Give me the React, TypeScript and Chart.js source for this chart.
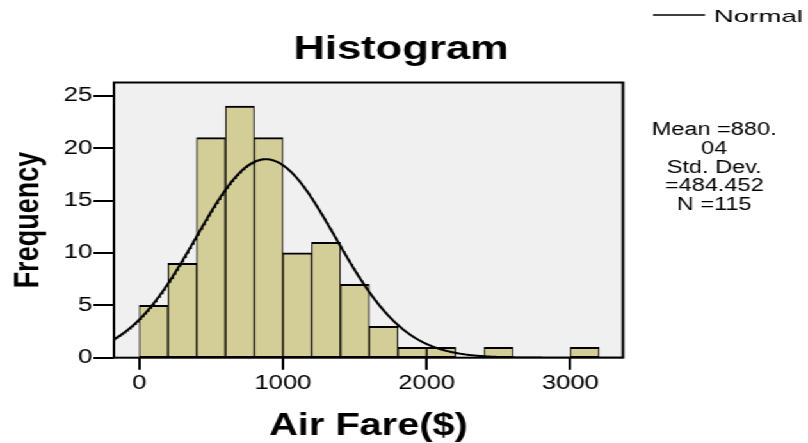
import React, { useEffect, useRef } from "react";
import { Chart, registerables } from "chart.js";

Chart.register(...registerables);

// ---- data ----
const binCenters = [100, 300, 500, 700, 900, 1100, 1300, 1500, 1700, 1900, 2100, 2300, 2500, 2700, 2900, 3100];
const frequencies = [5, 9, 21, 24, 21, 10, 11, 7, 3, 1, 1, 0, 1, 0, 0, 1];
const xTickValues = [0, 1000, 2000, 3000];
const yTickValues = [0, 5, 10, 15, 20, 25];
const MEAN = 880.04;
const STD_DEV = 484.452;
const N = 115;
const BIN_WIDTH = 200;
const statsLines = ["Mean =880.", "04", "Std. Dev.", "=484.452", "N =115"];
const TITLE = "Histogram";
const X_TITLE = "Air Fare($)";
const Y_TITLE = "Frequency";
const LEGEND_LABEL = "Normal";

// axis ranges
const X_MIN = -176;
const X_MAX = 3366;
const Y_MIN = 0;
const Y_MAX = 26.26;

// ---- layout (unstretched canvas coordinates) ----
const CANVAS_W = 631;
const CANVAS_H = 443;
const STRETCH = 808 / CANVAS_W;
const FONT = '"Liberation Sans", Arial, sans-serif';

function normalCurve() {
  const pts: { x: number; y: number }[] = [];
  const peak = (N * BIN_WIDTH) / (STD_DEV * Math.sqrt(2 * Math.PI));
  for (let x = X_MIN; x <= X_MAX; x += 6) {
    const z = (x - MEAN) / STD_DEV;
    pts.push({ x, y: peak * Math.exp(-0.5 * z * z) });
  }
  return pts;
}

function drawText(ctx: CanvasRenderingContext2D, text: string, x: number, y: number, font: string, align: CanvasTextAlign, sx: number) {
  ctx.save();
  ctx.font = font;
  ctx.fillStyle = "#000";
  ctx.textAlign = align;
  ctx.textBaseline = "alphabetic";
  ctx.translate(x, y);
  ctx.scale(sx, 1);
  ctx.fillText(text, 0, 0);
  ctx.restore();
}

const framePlugin = {
  id: "spssFrame",
  beforeDatasetsDraw(chart: any) {
    const { ctx, chartArea: a } = chart;
    ctx.save();
    ctx.fillStyle = "#f0f0f0";
    ctx.fillRect(a.left, a.top, a.right - a.left, a.bottom - a.top);
    ctx.restore();
  },
  afterDatasetsDraw(chart: any) {
    const { ctx, chartArea: a } = chart;
    ctx.save();
    ctx.strokeStyle = "#000";
    ctx.lineWidth = 2;
    ctx.strokeRect(a.left, a.top, a.right - a.left, a.bottom - a.top);
    ctx.restore();
  },
  afterDraw(chart: any) {
    const ctx: CanvasRenderingContext2D = chart.ctx;
    // title
    drawText(ctx, TITLE, 313.2, 59, `bold 34px ${FONT}`, "center", 1);
    // legend
    ctx.save();
    ctx.strokeStyle = "#000";
    ctx.lineWidth = 1.5;
    ctx.beginPath();
    ctx.moveTo(510, 15);
    ctx.lineTo(550.6, 15);
    ctx.stroke();
    ctx.restore();
    drawText(ctx, LEGEND_LABEL, 557.5, 22, `17px ${FONT}`, "left", 1.27);
    // stats
    const baselines = [135, 153.75, 172.5, 191.25, 210];
    statsLines.forEach((t, i) => {
      drawText(ctx, t, 557.8, baselines[i], `18px ${FONT}`, "center", 1.02);
    });
  },
};

export default function App() {
  const canvasRef = useRef<HTMLCanvasElement | null>(null);

  useEffect(() => {
    if (!canvasRef.current) return;
    const chart = new Chart(canvasRef.current, {
      type: "bar",
      data: {
        datasets: [
          {
            type: "line",
            label: LEGEND_LABEL,
            data: normalCurve(),
            borderColor: "#000",
            borderWidth: 2,
            pointRadius: 0,
            tension: 0,
            fill: false,
          } as any,
          {
            type: "bar",
            label: "Frequency",
            data: binCenters.map((x, i) => ({ x, y: frequencies[i] })),
            backgroundColor: "#d3ce97",
            borderColor: "#000",
            borderWidth: { top: 2, left: 1, right: 1, bottom: 1 },
            borderSkipped: false,
            barPercentage: 1,
            categoryPercentage: 1,
          } as any,
        ],
      },
      options: {
        animation: false,
        responsive: true,
        maintainAspectRatio: false,
        layout: { padding: { top: 82.5, right: 144.5, bottom: 0, left: 0 } },
        plugins: {
          legend: { display: false },
          tooltip: { enabled: false },
          title: { display: false },
        },
        scales: {
          x: {
            type: "linear",
            min: X_MIN,
            max: X_MAX,
            offset: false,
            afterFit: (s: any) => {
              s.height = 85.3;
            },
            afterBuildTicks: (s: any) => {
              s.ticks = xTickValues.map((v) => ({ value: v }));
            },
            grid: {
              offset: false,
              drawOnChartArea: false,
              drawTicks: true,
              tickLength: 12,
              color: "#000",
              lineWidth: 2,
            },
            border: { display: false },
            ticks: {
              color: "#000",
              font: { family: FONT, size: 20, lineHeight: 1.2 },
              padding: 2,
              maxRotation: 0,
              autoSkip: false,
              callback: (v: any) => String(v),
            },
            title: {
              display: true,
              text: X_TITLE,
              color: "#000",
              font: { family: FONT, size: 31, weight: "bold", lineHeight: 1 },
              padding: { top: 0, bottom: 1 },
            },
          },
          y: {
            type: "linear",
            min: Y_MIN,
            max: Y_MAX,
            afterFit: (s: any) => {
              s.width = 89;
            },
            afterBuildTicks: (s: any) => {
              s.ticks = yTickValues.map((v) => ({ value: v }));
            },
            grid: {
              drawOnChartArea: false,
              drawTicks: true,
              tickLength: 16,
              color: "#000",
              lineWidth: 2,
            },
            border: { display: false },
            ticks: {
              color: "#000",
              font: { family: FONT, size: 20 },
              padding: 1,
              callback: (v: any) => String(v),
            },
            title: {
              display: true,
              text: Y_TITLE,
              color: "#000",
              font: { family: FONT, size: 27, weight: "bold", lineHeight: 1 },
              padding: { top: 9, bottom: 0 },
            },
          },
        },
      } as any,
      plugins: [framePlugin],
    });
    return () => chart.destroy();
  }, []);

  return (
    <div
      style={{
        position: "fixed",
        left: 0,
        top: 0,
        width: CANVAS_W,
        height: CANVAS_H,
        transform: `scaleX(${STRETCH})`,
        transformOrigin: "0 0",
        background: "#fff",
      }}
    >
      <canvas ref={canvasRef} />
    </div>
  );
}
